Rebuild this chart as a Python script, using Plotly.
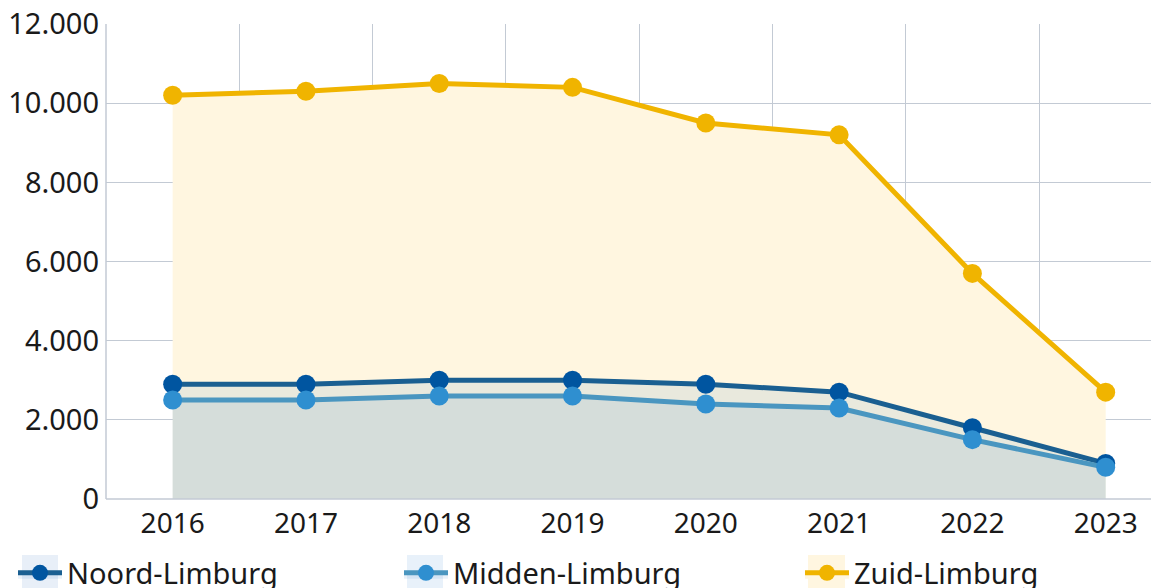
import plotly.graph_objects as go

years = [2016, 2017, 2018, 2019, 2020, 2021, 2022, 2023]
noord = [2900, 2900, 3000, 3000, 2900, 2700, 1800, 900]
midden = [2500, 2500, 2600, 2600, 2400, 2300, 1500, 800]
zuid = [10200, 10300, 10500, 10400, 9500, 9200, 5700, 2700]
y_ticks = [0, 2000, 4000, 6000, 8000, 10000, 12000]
y_labels = ["0", "2.000", "4.000", "6.000", "8.000", "10.000", "12.000"]

FONT = "Noto Sans"
W, H = 1159, 588
L, R, T, B = 98, 0, 16, 97
PW, PH = W - L - R, H - T - B


def px_x(p):
    return (p - L) / PW


def px_y(p):
    return (H - B - p) / PH


fig = go.Figure()
fig.add_trace(go.Scatter(
    x=years, y=zuid, name="Zuid-Limburg", mode="lines+markers",
    fill="tozeroy", fillcolor="#fff6e0",
    line=dict(color="#f0b400", width=5),
    marker=dict(color="#f0b400", size=19),
    legend="legend3",
))
fig.add_trace(go.Scatter(
    x=years, y=noord, name="Noord-Limburg", mode="lines+markers",
    fill="tozeroy", fillcolor="rgba(40,120,200,0.1)",
    line=dict(color="#1a5f91", width=5),
    marker=dict(color="#0055a0", size=19),
    legend="legend",
))
fig.add_trace(go.Scatter(
    x=years, y=midden, name="Midden-Limburg", mode="lines+markers",
    fill="tozeroy", fillcolor="rgba(40,120,200,0.1)",
    line=dict(color="#4a96c0", width=5),
    marker=dict(color="#2f8fd0", size=19),
    legend="legend2",
))

swatches = [(14, 50, "#e8eff8"), (399, 435, "#e8f1fa"), (800, 837, "#fff6e0")]
shapes = [
    dict(type="line", xref="paper", yref="paper", x0=0, x1=0, y0=0, y1=1,
         line=dict(color="#c3cad4", width=1.5)),
    dict(type="line", xref="paper", yref="paper", x0=0, x1=1, y0=0, y1=0,
         line=dict(color="#c3cad4", width=1.5)),
]
for x0, x1, c in swatches:
    shapes.append(dict(type="rect", xref="paper", yref="paper",
                       x0=px_x(x0), x1=px_x(x1), y0=px_y(547), y1=px_y(590),
                       fillcolor=c, line=dict(width=0), layer="below"))

leg_common = dict(orientation="h", yanchor="middle", y=px_y(565),
                  xanchor="left", font=dict(size=29), itemwidth=44,
                  bgcolor="rgba(0,0,0,0)")

fig.update_layout(
    width=W, height=H,
    margin=dict(l=L, r=R, t=T, b=B, autoexpand=False),
    plot_bgcolor="white", paper_bgcolor="white",
    font=dict(family=FONT, size=28, color="#1a1a1a"),
    showlegend=True,
    legend=dict(x=px_x(5), **leg_common),
    legend2=dict(x=px_x(391), **leg_common),
    legend3=dict(x=px_x(792), **leg_common),
    xaxis=dict(
        range=[2015.5, 2023.46], tickvals=years, ticktext=[str(y) for y in years],
        showgrid=False, zeroline=False, showline=False, ticks="",
        ticklabelstandoff=5,
        minor=dict(tickvals=[y + 0.5 for y in years[:-1]], showgrid=True,
                   gridcolor="#c3cad4", gridwidth=1),
    ),
    yaxis=dict(
        range=[0, 12001], tickvals=y_ticks, ticktext=y_labels,
        showgrid=True, gridcolor="#c3cad4", gridwidth=1,
        zeroline=False, showline=False, ticks="",
        ticklabelstandoff=6, tickfont=dict(size=29),
        ticklabeloverflow="allow",
    ),
    shapes=shapes,
)

fig.write_html("out.html")
